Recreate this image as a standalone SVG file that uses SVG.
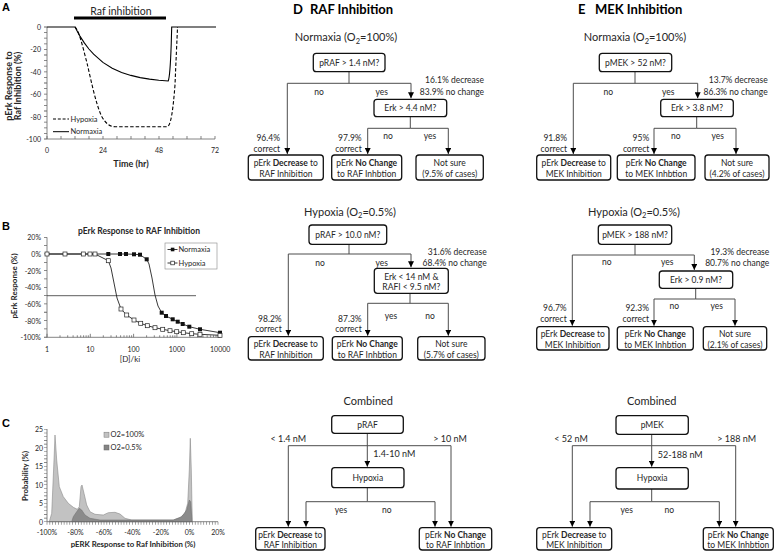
<svg xmlns="http://www.w3.org/2000/svg" width="778" height="553" viewBox="0 0 778 553">
<defs>
<style>
text{font-family:Lato,"Liberation Sans",Arial,sans-serif;fill:#262626}
.s{font-size:8.5px}
.m{text-anchor:middle}
.e{text-anchor:end}
.b{font-weight:bold}
.h{font-size:11px}
.tk{font-size:7px;fill:#333}
.lt{font-family:"Liberation Sans",Arial,sans-serif;font-weight:bold;font-size:11px;fill:#000}
.ttl{font-weight:bold;font-size:13px;fill:#000}
.box{fill:#fff;stroke:#111;stroke-width:1.3}
.cn{fill:none;stroke:#4d4d4d;stroke-width:1}
.ax{fill:none;stroke:#666;stroke-width:0.8}
.tick{fill:none;stroke:#666;stroke-width:3}
</style>
<marker id="ah" viewBox="0 0 10 10" refX="10" refY="5" markerWidth="6" markerHeight="6" markerUnits="userSpaceOnUse" orient="auto"><path d="M0,0L10,5L0,10z" fill="#000"/></marker>
</defs>
<rect width="778" height="553" fill="#fff"/>

<!-- Panel A -->
<g id="panelA">
<text class="lt" x="2" y="11">A</text>
<rect x="74" y="16.5" width="92" height="3" fill="#000"/>
<text x="121" y="14.5" class="m" font-size="10.5">Raf inhibition</text>
<path class="ax" d="M47,27V139H215"/>
<line class="tick" x1="45.5" y1="26.6" x2="45.5" y2="139.8" stroke-width="3" stroke-dasharray="0.8 4.8"/>
<line class="tick" x1="46.6" y1="137.5" x2="215.6" y2="137.5" stroke-dasharray="0.8 13.2"/>
<g class="tk e">
<text x="41" y="30">0</text><text x="41" y="52.4">-20</text><text x="41" y="74.8">-40</text><text x="41" y="97.2">-60</text><text x="41" y="119.6">-80</text><text x="41" y="142">-100</text>
</g>
<g class="tk m">
<text x="47" y="153">0</text><text x="103" y="153">24</text><text x="159" y="153">48</text><text x="215" y="153">72</text>
</g>
<text x="131" y="167" class="m b" font-size="9">Time (hr)</text>
<text transform="translate(11.5,86) rotate(-90)" class="m b" font-size="9">pErk Response to</text>
<text transform="translate(20.5,86) rotate(-90)" class="m b" font-size="9">Raf Inhibition (%)</text>
<path d="M47,27H75L79.6,35.6L84.3,42.9L88.9,49L93.6,54.2L102.9,62.4L112.2,68.2L121.6,72.4L130.9,75.4L140.2,77.6L149.5,79.1L158.8,80.2L168.2,81C169.5,78 170.5,65 171.2,45L171.7,27H216" fill="none" stroke="#000" stroke-width="1.1"/>
<path d="M75,27C79,30 83,48 87,63C91,80 96,105 102,117C106,124 110,126.5 115,126.8L167,126.8C171,126 173,110 175,85C176,60 177,40 177.5,27" fill="none" stroke="#000" stroke-width="1.1" stroke-dasharray="3.5 2"/>
<path d="M53,119H69" stroke="#000" stroke-width="1" stroke-dasharray="3 1.8"/>
<text x="70.5" y="121.5" font-size="7.5">Hypoxia</text>
<path d="M53,131.7H69" stroke="#000" stroke-width="1"/>
<text x="70.5" y="134.2" font-size="7.5">Normaxia</text>
</g>

<!-- Panel B -->
<g id="panelB">
<text class="lt" x="2" y="230">B</text>
<text x="139" y="234" class="m b" font-size="8.5">pErk Response to RAF Inhibition</text>
<path class="ax" d="M47,237.3V337.3H220.2"/>
<line class="tick" x1="45.5" y1="236.9" x2="45.5" y2="337.7" stroke-dasharray="0.8 7.53"/>
<path class="ax" d="M47,337.3v-3.5M90.3,337.3v-3.5M133.6,337.3v-3.5M176.9,337.3v-3.5M220.2,337.3v-3.5M60,337.3v-2M67.7,337.3v-2M73.1,337.3v-2M77.3,337.3v-2M80.7,337.3v-2M83.6,337.3v-2M86.1,337.3v-2M88.3,337.3v-2M103.3,337.3v-2M111,337.3v-2M116.4,337.3v-2M120.6,337.3v-2M124,337.3v-2M126.9,337.3v-2M129.4,337.3v-2M131.6,337.3v-2M146.6,337.3v-2M154.3,337.3v-2M159.7,337.3v-2M163.9,337.3v-2M167.3,337.3v-2M170.2,337.3v-2M172.7,337.3v-2M174.9,337.3v-2M189.9,337.3v-2M197.6,337.3v-2M203,337.3v-2M207.2,337.3v-2M210.6,337.3v-2M213.5,337.3v-2M216,337.3v-2M218.2,337.3v-2"/>
<g class="tk e">
<text x="41" y="240.3">20%</text><text x="41" y="257">0%</text><text x="41" y="273.7">-20%</text><text x="41" y="290.3">-40%</text><text x="41" y="307">-60%</text><text x="41" y="323.7">-80%</text><text x="41" y="340.3">-100%</text>
</g>
<g class="tk m">
<text x="47" y="352">1</text><text x="90.3" y="352">10</text><text x="133.6" y="352">100</text><text x="176.9" y="352">1000</text><text x="220.2" y="352">10000</text>
</g>
<text x="130" y="362" class="m" font-size="8">[D]/ki</text>
<text transform="translate(16.5,286) rotate(-90)" class="m b" font-size="8">pErk Response (%)</text>
<path d="M47,295.7H196" stroke="#333" stroke-width="0.8"/>
<path d="M47,254H108.3L120,254L126,254L134,254.3L140,254.7L146.7,259.3L149,264L152,278L155,295L158,306L161.7,312.7L166,316L172.7,319.3L177.7,321.7L182.7,324L189.3,326.7L200,329.3L220,332.7" fill="none" stroke="#222" stroke-width="0.9"/>
<path d="M47,254L65,254L83.3,254L90,254L95,254L108.3,260.7L111,268L114,283L117,298L121,309L126.7,315L134,320L140.7,323.3L147.3,325.7L155,327.7L162.7,329.3L170,330.7L176.7,331.7L183.3,332.7L191.7,333.7L200,334.3L220,335.3" fill="none" stroke="#222" stroke-width="0.9"/>
<g fill="#111">
<rect x="106.3" y="252" width="4" height="4"/><rect x="118" y="252" width="4" height="4"/><rect x="124" y="252" width="4" height="4"/><rect x="132" y="252.3" width="4" height="4"/><rect x="138" y="252.7" width="4" height="4"/><rect x="144.7" y="257.3" width="4" height="4"/><rect x="159.7" y="310.7" width="4" height="4"/><rect x="164" y="314" width="4" height="4"/><rect x="170.7" y="317.3" width="4" height="4"/><rect x="175.7" y="319.7" width="4" height="4"/><rect x="180.7" y="322" width="4" height="4"/><rect x="187.3" y="324.7" width="4" height="4"/><rect x="198" y="327.3" width="4" height="4"/><rect x="218" y="330.7" width="4" height="4"/>
</g>
<g fill="#fff" stroke="#222" stroke-width="0.7">
<rect x="45" y="252" width="4" height="4"/><rect x="63" y="252" width="4" height="4"/><rect x="81.3" y="252" width="4" height="4"/><rect x="88" y="252" width="4" height="4"/><rect x="93" y="252" width="4" height="4"/><rect x="106.3" y="258.7" width="4" height="4"/><rect x="119" y="307" width="4" height="4"/><rect x="124.7" y="313" width="4" height="4"/><rect x="132" y="318" width="4" height="4"/><rect x="138.7" y="321.3" width="4" height="4"/><rect x="145.3" y="323.7" width="4" height="4"/><rect x="153" y="325.7" width="4" height="4"/><rect x="160.7" y="327.3" width="4" height="4"/><rect x="168" y="328.7" width="4" height="4"/><rect x="174.7" y="329.7" width="4" height="4"/><rect x="181.3" y="330.7" width="4" height="4"/><rect x="189.7" y="331.7" width="4" height="4"/><rect x="198" y="332.3" width="4" height="4"/><rect x="218" y="333.3" width="4" height="4"/>
</g>
<rect x="165" y="243" width="52" height="26" fill="#fff" stroke="#888" stroke-width="0.6"/>
<path d="M167.5,249.5H177.5" stroke="#222" stroke-width="0.9"/>
<rect x="170.8" y="247.7" width="3.6" height="3.6" fill="#111"/>
<text x="178.5" y="252.3" font-size="7.5">Normaxia</text>
<path d="M167.5,263H177.5" stroke="#222" stroke-width="0.9"/>
<rect x="170.8" y="261.2" width="3.6" height="3.6" fill="#fff" stroke="#222" stroke-width="0.7"/>
<text x="178.5" y="265.8" font-size="7.5">Hypoxia</text>
</g>

<!-- Panel C -->
<g id="panelC">
<text class="lt" x="2" y="427">C</text>
<path d="M49.3,521.7L51.7,513.3L54,460L55,435L56.7,460L59.3,486.7L63.3,496.7L68.3,503.3L73.3,507.3L77.3,509.3L79.3,506.7L81,486.7L82,485L84,493.3L86.7,505L90,511.7L95,514.3L103.3,515L108.3,512.7L115,512.3L120,514L125,518.3L131.7,520L173.3,520L180,517.7L185,513.3L187.7,503.3L189.3,470L190.3,438.3L191.3,470L192.3,521.7Z" fill="#c2c2c2" stroke="#8a8a8a" stroke-width="0.6"/>
<path d="M71.7,521.7L73.3,516.7L76.7,511.7L79.3,508.3L81.7,510L85,515L90,518.3L100,520L173.3,520L181.7,516.7L186.7,510L189.3,500L190.7,501.7L192,521.7Z" fill="#858585" fill-opacity="0.9" stroke="#6a6a6a" stroke-width="0.5"/>
<path class="ax" d="M47,429V521.7H218"/>
<line class="tick" x1="45.5" y1="429" x2="45.5" y2="522" stroke-dasharray="0.6 3.1"/>
<line class="tick" x1="46.7" y1="523.2" x2="218.5" y2="523.2" stroke-dasharray="0.6 2.25"/>
<g class="tk e">
<text x="43" y="432">25</text><text x="43" y="450.5">20</text><text x="43" y="469">15</text><text x="43" y="487.5">10</text><text x="43" y="506">5</text><text x="43" y="524.5">0</text>
</g>
<g class="tk m">
<text x="47" y="535">-100%</text><text x="75.5" y="535">-80%</text><text x="104" y="535">-60%</text><text x="132.5" y="535">-40%</text><text x="161" y="535">-20%</text><text x="189.5" y="535">0%</text><text x="218" y="535">20%</text>
</g>
<text x="133" y="547" class="m b" font-size="7.8">pERK Response to Raf Inhibition (%)</text>
<text transform="translate(27.5,476) rotate(-90)" class="m b" font-size="7.8">Probability (%)</text>
<rect x="104" y="432.2" width="5" height="5" fill="#c2c2c2" stroke="#777" stroke-width="0.5"/>
<text x="110.5" y="437.3" font-size="7.5">O2=100%</text>
<rect x="104" y="445" width="5" height="5" fill="#858585" stroke="#666" stroke-width="0.5"/>
<text x="110.5" y="450.2" font-size="7.5">O2=0.5%</text>
</g>

<!-- Titles -->
<text x="293" y="13.5" class="ttl">D</text>
<text x="310" y="13.5" class="ttl">RAF Inhibition</text>
<text x="578" y="13.5" class="ttl">E</text>
<text x="595" y="13.5" class="ttl">MEK Inhibition</text>

<g class="h m">
<text x="346" y="41">Normaxia (O<tspan font-size="7.5" dy="2.5">2</tspan><tspan dy="-2.5">=100%)</tspan></text>
<text x="350" y="215.5">Hypoxia (O<tspan font-size="7.5" dy="2.5">2</tspan><tspan dy="-2.5">=0.5%)</tspan></text>
<text x="368.3" y="405">Combined</text>
<text x="635" y="41">Normaxia (O<tspan font-size="7.5" dy="2.5">2</tspan><tspan dy="-2.5">=100%)</tspan></text>
<text x="634" y="215.5">Hypoxia (O<tspan font-size="7.5" dy="2.5">2</tspan><tspan dy="-2.5">=0.5%)</tspan></text>
<text x="651.7" y="405">Combined</text>
</g>

<!-- Connectors -->
<g id="connectors" class="cn">
<path d="M349,71.7V83.3H287.3V154" marker-end="url(#ah)"/>
<path d="M349,83.3H411V98.3" marker-end="url(#ah)"/>
<path d="M410.3,116.7V128.3H367.7V154" marker-end="url(#ah)"/>
<path d="M410.3,128.3H448.3V154" marker-end="url(#ah)"/>
<path d="M349,244.3V254H288.3V335.7" marker-end="url(#ah)"/>
<path d="M349,254H411V267.3" marker-end="url(#ah)"/>
<path d="M410,293.3V303.3H367.7V335.7" marker-end="url(#ah)"/>
<path d="M410,303.3H448.3V335.7" marker-end="url(#ah)"/>
<path d="M367.3,433.3V466.7" marker-end="url(#ah)"/>
<path d="M367.3,445.7H288.3V526.7" marker-end="url(#ah)"/>
<path d="M367.3,445.7H451V526.7" marker-end="url(#ah)"/>
<path d="M367.3,487.7V501.7H306V526.7" marker-end="url(#ah)"/>
<path d="M367.3,501.7H435V526.7" marker-end="url(#ah)"/>
<path d="M635,71.7V83.3H573.3V154" marker-end="url(#ah)"/>
<path d="M635,83.3H697.7V98.3" marker-end="url(#ah)"/>
<path d="M696.7,116.7V128.3H654V154" marker-end="url(#ah)"/>
<path d="M696.7,128.3H736V154" marker-end="url(#ah)"/>
<path d="M635,244.3V255H572.3V325.7" marker-end="url(#ah)"/>
<path d="M635,255H694.3V270" marker-end="url(#ah)"/>
<path d="M695.7,288.3V299H654V325.7" marker-end="url(#ah)"/>
<path d="M695.7,299H735V325.7" marker-end="url(#ah)"/>
<path d="M651.7,434.3V466.7" marker-end="url(#ah)"/>
<path d="M651.7,445.7H572.3V526.7" marker-end="url(#ah)"/>
<path d="M651.7,445.7H735.7V526.7" marker-end="url(#ah)"/>
<path d="M651.7,489V501.7H590V526.7" marker-end="url(#ah)"/>
<path d="M651.7,501.7H719.3V526.7" marker-end="url(#ah)"/>
</g>

<!-- Edge labels -->
<g class="s m">
<text x="319" y="95">no</text><text x="381.7" y="95">yes</text>
<text x="388" y="138.5">no</text><text x="430" y="138.5">yes</text>
<text x="320" y="266">no</text><text x="381.7" y="266">yes</text>
<text x="391" y="318.5">yes</text><text x="430" y="318.5">no</text>
<text x="288.3" y="441.5" font-size="9">&lt; 1.4 nM</text><text x="450" y="441.5" font-size="9">&gt; 10 nM</text>
<text x="341" y="513">yes</text><text x="386.7" y="513">no</text>
<text x="608.3" y="95">no</text><text x="668.3" y="95">yes</text>
<text x="675.7" y="138.5">no</text><text x="717.7" y="138.5">yes</text>
<text x="606.7" y="265">no</text><text x="667.3" y="265">yes</text>
<text x="674.3" y="309">no</text><text x="716.7" y="309">yes</text>
<text x="571" y="441.5" font-size="9">&lt; 52 nM</text><text x="736.7" y="441.5" font-size="9">&gt; 188 nM</text>
<text x="626.7" y="513">yes</text><text x="669.3" y="513">no</text>
</g>
<g class="s">
<text x="373.3" y="457" font-size="9">1.4-10 nM</text>
<text x="657.7" y="457.5" font-size="9">52-188 nM</text>
</g>
<g class="s e">
<text x="484" y="83">16.1%  decrease</text><text x="484" y="94.5">83.9% no change</text>
<text x="280" y="140.5">96.4%</text><text x="280" y="151.5">correct</text>
<text x="361.7" y="140.5">97.9%</text><text x="361.7" y="151.5">correct</text>
<text x="486.7" y="254.5">31.6% decrease</text><text x="486.7" y="266">68.4%  no change</text>
<text x="281.7" y="321.5">98.2%</text><text x="281.7" y="332">correct</text>
<text x="361.7" y="321.5">87.3%</text><text x="361.7" y="332">correct</text>
<text x="767.7" y="83">13.7% decrease</text><text x="767.7" y="94.5">86.3% no change</text>
<text x="567" y="140.5">91.8%</text><text x="567" y="151.5">correct</text>
<text x="649.3" y="140.5">95%</text><text x="649.3" y="151.5">correct</text>
<text x="769.3" y="254.5">19.3% decrease</text><text x="769.3" y="266">80.7% no change</text>
<text x="566.7" y="311">96.7%</text><text x="566.7" y="322">correct</text>
<text x="649" y="311">92.3%</text><text x="649" y="322">correct</text>
</g>

<!-- D nodes -->
<g id="dN1"><rect class="box" x="313.3" y="53.3" width="71.7" height="18.4" rx="3"/><text class="s m" x="349.2" y="65.5">pRAF &gt; 1.4 nM?</text></g>
<g id="dN2"><rect class="box" x="374" y="99.3" width="72.7" height="17.4" rx="3"/><text class="s m" x="410.3" y="111">Erk &gt; 4.4 nM?</text></g>
<g id="dN3"><rect class="box" x="248.3" y="155" width="75" height="25" rx="3"/><text class="s m" x="285.8" y="166">pErk <tspan class="b">Decrease</tspan> to</text><text class="s m" x="285.8" y="176.5">RAF Inhibition</text></g>
<g id="dN4"><rect class="box" x="331.7" y="155" width="70" height="25" rx="3"/><text class="s m" x="366.7" y="166">pErk <tspan class="b">No Change</tspan></text><text class="s m" x="366.7" y="176.5">to RAF Inhbtion</text></g>
<g id="dN5"><rect class="box" x="416" y="155" width="67.3" height="25" rx="3"/><text class="s m" x="449.7" y="166">Not sure</text><text class="s m" x="449.7" y="176.5">(9.5% of cases)</text></g>

<g id="dH1"><rect class="box" x="309" y="225" width="77.7" height="19.3" rx="3"/><text class="s m" x="347.8" y="237.5">pRAF &gt; 10.0 nM?</text></g>
<g id="dH2"><rect class="box" x="374.3" y="268.3" width="74" height="25" rx="3"/><text class="s m" x="411.3" y="279.5">Erk &lt; 14 nM &amp;</text><text class="s m" x="411.3" y="290">RAFI &lt; 9.5 nM?</text></g>
<g id="dH3"><rect class="box" x="248.3" y="336.7" width="75" height="23.3" rx="3"/><text class="s m" x="285.8" y="347">pErk <tspan class="b">Decrease</tspan> to</text><text class="s m" x="285.8" y="357.5">RAF Inhibition</text></g>
<g id="dH4"><rect class="box" x="332.3" y="336.7" width="70" height="23.3" rx="3"/><text class="s m" x="367.3" y="347">pErk <tspan class="b">No Change</tspan></text><text class="s m" x="367.3" y="357.5">to RAF Inhbtion</text></g>
<g id="dH5"><rect class="box" x="417.7" y="336.7" width="67.3" height="23.3" rx="3"/><text class="s m" x="451.3" y="347">Not sure</text><text class="s m" x="451.3" y="357.5">(5.7% of cases)</text></g>

<g id="dC1"><rect class="box" x="331.7" y="415.7" width="71.6" height="17.6" rx="3"/><text class="s m" x="367.5" y="427.5">pRAF</text></g>
<g id="dC2"><rect class="box" x="331.7" y="467.7" width="72.3" height="20" rx="3"/><text class="s m" x="367.8" y="480.5">Hypoxia</text></g>
<g id="dC3"><rect class="box" x="255.7" y="527.7" width="69.3" height="22.3" rx="3"/><text class="s m" x="290.3" y="537.5">pErk <tspan class="b">Decrease</tspan> to</text><text class="s m" x="290.3" y="547.5">RAF Inhibition</text></g>
<g id="dC4"><rect class="box" x="419.3" y="527.7" width="72.4" height="22.3" rx="3"/><text class="s m" x="455.5" y="537.5">pErk <tspan class="b">No Change</tspan></text><text class="s m" x="455.5" y="547.5">to RAF Inhbtion</text></g>

<!-- E nodes -->
<g id="eN1"><rect class="box" x="599.3" y="53.3" width="72.4" height="18.4" rx="3"/><text class="s m" x="635.5" y="65.5">pMEK &gt; 52 nM?</text></g>
<g id="eN2"><rect class="box" x="660.7" y="99.3" width="72.6" height="17.4" rx="3"/><text class="s m" x="697" y="111">Erk &gt; 3.8 nM?</text></g>
<g id="eN3"><rect class="box" x="536.7" y="155" width="74" height="25" rx="3"/><text class="s m" x="573.7" y="166">pErk <tspan class="b">Decrease</tspan> to</text><text class="s m" x="573.7" y="176.5">MEK Inhibition</text></g>
<g id="eN4"><rect class="box" x="617.3" y="155" width="77.7" height="25" rx="3"/><text class="s m" x="656.2" y="166">pErk <tspan class="b">No Change</tspan></text><text class="s m" x="656.2" y="176.5">to MEK Inhbtion</text></g>
<g id="eN5"><rect class="box" x="705" y="155" width="64" height="25" rx="3"/><text class="s m" x="737" y="166">Not sure</text><text class="s m" x="737" y="176.5">(4.2% of cases)</text></g>

<g id="eH1"><rect class="box" x="598.3" y="225" width="73.4" height="19.3" rx="3"/><text class="s m" x="635" y="237.5">pMEK &gt; 188 nM?</text></g>
<g id="eH2"><rect class="box" x="659.3" y="271" width="73.4" height="17.3" rx="3"/><text class="s m" x="696" y="282.7">Erk &gt; 0.9 nM?</text></g>
<g id="eH3"><rect class="box" x="536.7" y="326.7" width="72.3" height="23.3" rx="3"/><text class="s m" x="572.8" y="337">pErk <tspan class="b">Decrease</tspan> to</text><text class="s m" x="572.8" y="347.5">MEK Inhibition</text></g>
<g id="eH4"><rect class="box" x="617.3" y="326.7" width="76" height="23.3" rx="3"/><text class="s m" x="655.3" y="337">pErk <tspan class="b">No Change</tspan></text><text class="s m" x="655.3" y="347.5">to MEK Inhbtion</text></g>
<g id="eH5"><rect class="box" x="703.3" y="326.7" width="63.4" height="23.3" rx="3"/><text class="s m" x="735" y="337">Not sure</text><text class="s m" x="735" y="347.5">(2.1% of cases)</text></g>

<g id="eC1"><rect class="box" x="616" y="415.7" width="72.3" height="18.6" rx="3"/><text class="s m" x="652.2" y="428">pMEK</text></g>
<g id="eC2"><rect class="box" x="616" y="467.7" width="72.3" height="21.3" rx="3"/><text class="s m" x="652.2" y="481">Hypoxia</text></g>
<g id="eC3"><rect class="box" x="536.7" y="527.7" width="75" height="22.3" rx="3"/><text class="s m" x="574.2" y="537.5">pErk <tspan class="b">Decrease</tspan> to</text><text class="s m" x="574.2" y="547.5">MEK Inhibition</text></g>
<g id="eC4"><rect class="box" x="703.3" y="527.7" width="70" height="22.3" rx="3"/><text class="s m" x="738.3" y="537.5">pErk <tspan class="b">No Change</tspan></text><text class="s m" x="738.3" y="547.5">to MEK Inhbtion</text></g>
</svg>
